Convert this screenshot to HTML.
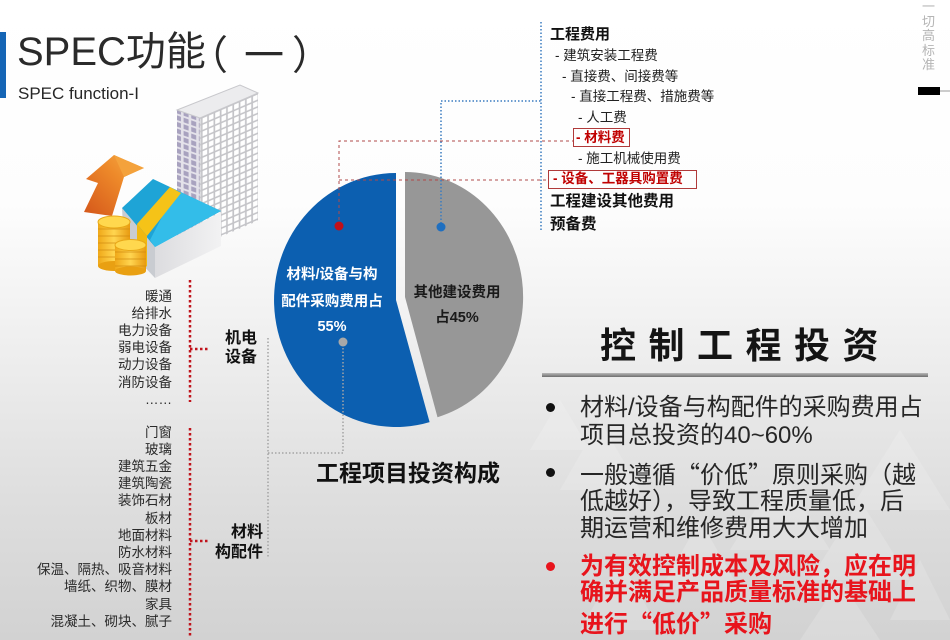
<!DOCTYPE html>
<html><head><meta charset="utf-8">
<style>
html,body{margin:0;padding:0;}
body{width:950px;height:640px;position:relative;overflow:hidden;
background:linear-gradient(to bottom,#ffffff 0%,#fdfdfd 32%,#ececec 58%,#dedede 78%,#d2d2d2 100%);
font-family:"Liberation Sans","Noto Sans CJK SC",sans-serif;color:#222;}
.a{position:absolute;white-space:nowrap;line-height:1;}
.b{font-weight:bold;}
svg{position:absolute;left:0;top:0;}
.lst{position:absolute;right:778px;text-align:right;font-size:13.5px;line-height:17.2px;color:#2a2a2a;white-space:nowrap;}
.bul{position:absolute;left:580px;font-size:24px;line-height:1;white-space:nowrap;color:#262626;}
.red{color:#e8141c;font-weight:bold;}
.dot{position:absolute;width:9px;height:9px;border-radius:50%;background:#111;}
.ql{display:inline-block;width:1em;text-align:right;font-family:"Noto Sans CJK SC",sans-serif;}
.qr{display:inline-block;width:1em;text-align:left;font-family:"Noto Sans CJK SC",sans-serif;}
</style></head>
<body>
<svg width="950" height="640" viewBox="0 0 950 640">
  <defs>
    <pattern id="grid" width="6.3" height="6.6" patternUnits="userSpaceOnUse">
      <rect x="0" y="0" width="6.3" height="6.6" fill="#c4c4c8"/>
      <rect x="1" y="1" width="4.6" height="4.9" fill="#ffffff"/>
    </pattern>
    <pattern id="win" width="7.6" height="6.6" patternUnits="userSpaceOnUse">
      <rect x="0" y="0" width="7.6" height="6.6" fill="#e4e2ea"/>
      <rect x="1.2" y="1" width="5" height="4.6" fill="#a8a2bf"/>
    </pattern>
    <linearGradient id="org" x1="0" y1="1" x2="1" y2="0">
      <stop offset="0" stop-color="#d4561a"/>
      <stop offset="0.6" stop-color="#ee8a2a"/>
      <stop offset="1" stop-color="#f6b04a"/>
    </linearGradient>
    <linearGradient id="gold" x1="0" y1="0" x2="1" y2="0">
      <stop offset="0" stop-color="#f0a818"/>
      <stop offset="0.5" stop-color="#ffd550"/>
      <stop offset="1" stop-color="#e89a10"/>
    </linearGradient>
    <linearGradient id="ln" x1="0" y1="0" x2="0" y2="1">
      <stop offset="0" stop-color="#b8b8b8"/>
      <stop offset="1" stop-color="#6e6e6e"/>
    </linearGradient>
    <linearGradient id="rf" x1="0" y1="0" x2="1" y2="0">
      <stop offset="0" stop-color="#dcdcdf"/>
      <stop offset="1" stop-color="#f2f2f3"/>
    </linearGradient>
  </defs>

  <!-- faint triangle pattern bottom right -->
  <g fill="#ffffff" opacity="0.16">
    <polygon points="560,400 590,450 530,450"/>
    <polygon points="600,420 640,490 560,490"/>
    <polygon points="700,520 740,590 660,590"/>
    <polygon points="780,470 830,550 730,550"/>
    <polygon points="860,500 910,580 810,580"/>
    <polygon points="900,430 950,510 850,510"/>
    <polygon points="620,560 660,630 580,630"/>
    <polygon points="840,580 880,640 800,640"/>
    <polygon points="920,560 950,620 890,620"/>
  </g>

  <!-- blue bar -->
  <rect x="0" y="32" width="6" height="66" fill="#1565b5"/>

  <!-- building -->
  <g transform="matrix(1,-0.431,0,1,0,0)">
    <rect x="200" y="204" width="58" height="128" fill="url(#grid)"/>
  </g>
  <g transform="matrix(1,0.348,0,1,0,0)">
    <rect x="177" y="48.4" width="23" height="135" fill="url(#win)"/>
  </g>
  <polygon points="177,110 240,85 258,93 200,118" fill="#ececee" stroke="#c8c8cc" stroke-width="1"/>
  <line x1="200" y1="118" x2="200" y2="250" stroke="#cfcfd4" stroke-width="1"/>

  <!-- arrow -->
  <polygon points="84,212 98,183 86,179 114,155 144,168 124,177 112,216" fill="url(#org)"/>
  <polygon points="114,155 144,168 124,177" fill="#f4a23c"/>

  <!-- money stack -->
  <polygon points="122,208 155,247 155,278 124,245" fill="#c9ccd1"/>
  <polygon points="155,247 221,212 221,246 155,278" fill="url(#rf)"/>
  <polygon points="122,208 153,179 221,211 155,247" fill="#1ea4d6"/>
  <polygon points="176,190 221,211 155,247 150,240" fill="#33bde9"/>
  <polygon points="170,187 181,193 147,236 137,224" fill="#f5c318"/>
  <polygon points="137,224 147,236 147,267 137,255" fill="#f0b810"/>

  <!-- coins -->
  <g>
    <rect x="98" y="222" width="32" height="44" fill="url(#gold)"/>
    <g stroke="#d08a10" stroke-width="1" opacity="0.7">
      <line x1="98" y1="229" x2="130" y2="229"/><line x1="98" y1="236" x2="130" y2="236"/>
      <line x1="98" y1="243" x2="130" y2="243"/><line x1="98" y1="250" x2="130" y2="250"/>
      <line x1="98" y1="257" x2="130" y2="257"/>
    </g>
    <ellipse cx="114" cy="266" rx="16" ry="5" fill="#e9a012"/>
    <ellipse cx="114" cy="222" rx="16" ry="6" fill="#ffd84e" stroke="#e8a818" stroke-width="1"/>
  </g>
  <g>
    <rect x="115" y="245" width="31" height="26" fill="url(#gold)"/>
    <g stroke="#d08a10" stroke-width="1" opacity="0.7">
      <line x1="115" y1="252" x2="146" y2="252"/><line x1="115" y1="259" x2="146" y2="259"/>
      <line x1="115" y1="266" x2="146" y2="266"/>
    </g>
    <ellipse cx="130.5" cy="271" rx="15.5" ry="4.5" fill="#e9a012"/>
    <ellipse cx="130.5" cy="245" rx="15.5" ry="5.5" fill="#ffd84e" stroke="#e8a818" stroke-width="1"/>
  </g>

  <!-- pie -->
  <path d="M396,300 L396,173 A122,127 0 1,0 429.6,422.1 Z" fill="#0c5fb0"/>
  <path d="M405,297 L405,172 A118,125 0 0,1 437.5,417.2 Z" fill="#979797"/>

  <!-- connector lines -->
  <g fill="none" stroke="#c0141c" stroke-width="2.5" stroke-dasharray="2.5 2.5">
    <path d="M190,280 V402"/>
    <path d="M190,428 V636"/>
    <path d="M190,349 H208"/>
    <path d="M190,541 H208"/>
  </g>
  <g fill="none" stroke="#a4a4a4" stroke-width="1.5" stroke-dasharray="1.5 2">
    <path d="M268,338 V557"/>
    <path d="M268,453 H343 V342"/>
  </g>
  <g fill="none" stroke="#b04a4a" stroke-width="1" stroke-dasharray="3 3">
    <path d="M339,226 V141 H573"/>
    <path d="M339,180 H548"/>
  </g>
  <g fill="none" stroke="#3a7cc0" stroke-width="1.5" stroke-dasharray="1.5 2">
    <path d="M441,227 V101 H541"/>
    <path d="M541,22 V232"/>
  </g>
  <circle cx="339" cy="226" r="4.5" fill="#c0101a"/>
  <circle cx="441" cy="227" r="4.5" fill="#1f6fc0"/>
  <circle cx="343" cy="342" r="4.5" fill="#a8a8a8"/>

  <!-- heading underline -->
  <rect x="542" y="373" width="386" height="4" fill="url(#ln)"/>

  <!-- right edge marker -->
  <rect x="918" y="87" width="22" height="8" fill="#000"/>
  <line x1="940" y1="91" x2="950" y2="91" stroke="#999" stroke-width="1"/>
</svg>

<!-- title -->
<div class="a" style="left:17px;top:32px;font-size:40px;color:#2a2a2a;">SPEC功能</div>
<div class="a" style="left:188px;top:32px;font-size:40px;color:#2a2a2a;font-family:'Noto Sans CJK SC',sans-serif;">（</div>
<div class="a" style="left:244px;top:32px;font-size:40px;color:#2a2a2a;font-family:'Noto Sans CJK SC',sans-serif;">一</div>
<div class="a" style="left:292px;top:32px;font-size:40px;color:#2a2a2a;font-family:'Noto Sans CJK SC',sans-serif;">）</div>
<div class="a" style="left:18px;top:85px;font-size:17px;color:#262626;">SPEC function-I</div>

<!-- vertical right text -->
<div class="a" style="left:922px;top:0px;font-size:13px;line-height:14.5px;color:#b4b4b4;white-space:normal;width:14px;">一<br>切<br>高<br>标<br>准</div>

<!-- top-right list -->
<div class="a b" style="left:550px;top:27px;font-size:15px;color:#111;">工程费用</div>
<div class="a" style="left:555px;top:49px;font-size:13.5px;">- 建筑安装工程费</div>
<div class="a" style="left:562px;top:70px;font-size:13.5px;">- 直接费、间接费等</div>
<div class="a" style="left:571px;top:90px;font-size:13.5px;">- 直接工程费、措施费等</div>
<div class="a" style="left:578px;top:111px;font-size:13.5px;">- 人工费</div>
<div class="a" style="left:573px;top:128px;width:55px;height:17px;border:1px solid #b03a3a;"></div>
<div class="a b" style="left:576px;top:131px;font-size:13.5px;color:#c00000;">- 材料费</div>
<div class="a" style="left:578px;top:152px;font-size:13.5px;">- 施工机械使用费</div>
<div class="a" style="left:548px;top:170px;width:147px;height:17px;border:1px solid #b03a3a;"></div>
<div class="a b" style="left:553px;top:172px;font-size:13.5px;color:#c00000;">- 设备、工器具购置费</div>
<div class="a b" style="left:550px;top:194px;font-size:15.5px;color:#111;">工程建设其他费用</div>
<div class="a b" style="left:550px;top:217px;font-size:15.5px;color:#111;">预备费</div>

<!-- pie labels -->
<div class="a b" style="left:262px;width:140px;text-align:center;top:268px;font-size:14.5px;color:#fff;">材料/设备与构</div>
<div class="a b" style="left:262px;width:140px;text-align:center;top:295px;font-size:14.5px;color:#fff;">配件采购费用占</div>
<div class="a b" style="left:262px;width:140px;text-align:center;top:320px;font-size:14.5px;color:#fff;">55%</div>
<div class="a b" style="left:397px;width:120px;text-align:center;top:286px;font-size:14.5px;color:#1a1a1a;">其他建设费用</div>
<div class="a b" style="left:397px;width:120px;text-align:center;top:311px;font-size:14.5px;color:#1a1a1a;">占45%</div>
<div class="a b" style="left:300px;width:216px;text-align:center;top:462px;font-size:23px;color:#111;">工程项目投资构成</div>

<!-- left lists -->
<div class="lst" style="top:287.5px;">暖通<br>给排水<br>电力设备<br>弱电设备<br>动力设备<br>消防设备<br>……</div>
<div class="lst" style="top:423.5px;">门窗<br>玻璃<br>建筑五金<br>建筑陶瓷<br>装饰石材<br>板材<br>地面材料<br>防水材料<br>保温、隔热、吸音材料<br>墙纸、织物、膜材<br>家具<br>混凝土、砌块、腻子</div>

<div class="a b" style="left:225px;top:331px;font-size:16px;color:#111;">机电</div>
<div class="a b" style="left:225px;top:350px;font-size:16px;color:#111;">设备</div>
<div class="a b" style="right:687px;top:525px;font-size:16px;color:#111;">材料</div>
<div class="a b" style="right:687px;top:545px;font-size:16px;color:#111;">构配件</div>

<!-- right box -->
<div class="a b" style="left:600px;top:328px;font-size:36px;letter-spacing:12.5px;color:#141414;">控制工程投资</div>

<div class="dot" style="left:546px;top:403px;"></div>
<div class="bul" style="top:396px;">材料/设备与构配件的采购费用占</div>
<div class="bul" style="top:424px;">项目总投资的40~60%</div>

<div class="dot" style="left:546px;top:468px;"></div>
<div class="bul" style="top:461px;">一般遵循<span class="ql">“</span>价低<span class="qr">”</span>原则采购（越</div>
<div class="bul" style="top:490px;">低越好），导致工程质量低，后</div>
<div class="bul" style="top:517px;">期运营和维修费用大大增加</div>

<div class="dot" style="left:546px;top:562px;background:#e8141c;"></div>
<div class="bul red" style="top:555px;">为有效控制成本及风险，应在明</div>
<div class="bul red" style="top:581px;">确并满足产品质量标准的基础上</div>
<div class="bul red" style="top:610px;">进行<span class="ql">“</span>低价<span class="qr">”</span>采购</div>
</body></html>
